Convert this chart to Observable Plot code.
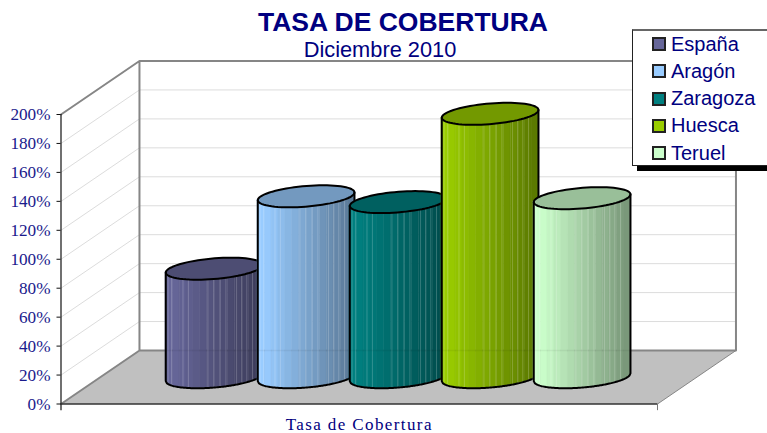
<!DOCTYPE html>
<html lang="es">
<head>
<meta charset="utf-8">
<script src="https://cdn.jsdelivr.net/npm/d3@7"></script>
<script src="https://cdn.jsdelivr.net/npm/@observablehq/plot@0.6"></script>
<style>
  html, body { margin: 0; padding: 0; background: #fff; }
  body { width: 767px; height: 433px; overflow: hidden; position: relative; }
  #head { height: 58px; position: relative; color: #000080; font-family: "Liberation Sans", Arial, sans-serif; }
  #title { position: absolute; left: 0; width: 806px; top: 8px; text-align: center; font-size: 26.5px; font-weight: bold; line-height: 29px; }
  #subtitle { position: absolute; left: 0; width: 760px; top: 38px; text-align: center; font-size: 21.8px; line-height: 24px; }
  #legend { position: absolute; left: 632px; top: 29px; width: 135px; height: 137px; box-sizing: border-box; background: #fff;
            border: 1px solid #222; border-right: none; border-top: 2px solid #666; box-shadow: 5px 5px 0 #000;
            font-family: "Liberation Sans", Arial, sans-serif; font-size: 20px; color: #000080; }
  .row { position: absolute; left: 19px; display: flex; align-items: center; height: 20px; }
  .sw { width: 14px; height: 14px; box-sizing: border-box; border: 2px solid #222; margin-right: 5px; }
  svg { display: block; }
  .xlabel text { letter-spacing: 1.4px; }
</style>
</head>
<body>
<div id="head">
  <div id="title"></div>
  <div id="subtitle"></div>
</div>
<div id="legend"></div>
<div id="chart"></div>
<script>
const chartTitle = "TASA DE COBERTURA";
const chartSubtitle = "Diciembre 2010";
const categoryLabel = "Tasa de Cobertura";
const series = ["España", "Aragón", "Zaragoza", "Huesca", "Teruel"];
const values = [75, 125, 121, 182, 123.7];
const colors = ["#666699", "#99ccff", "#008080", "#99cc00", "#ccffcc"];
const yTicks = [0, 20, 40, 60, 80, 100, 120, 140, 160, 180, 200];
const stripeOffsets = [0.024, 0.059, 0.178, 0.234, 0.436, 0.498, 0.56, 0.622, 0.732, 0.787, 0.838, 0.897];

// Oblique 3D projection, in scale units
const xSpan = 6.484, depthX = 0.853, depthY = 36.96;
const axisA = 0.492, axisB = 0.185, axisC = 7.6;
const R = Math.hypot(axisA, axisB), tr = Math.atan2(axisB, axisA);
const yMax = 200;

const center = (i) => xSpan / 2 + (i - 2) + depthX / 2 - 0.004;
const lowerY = (v, f) => v + depthY / 2 + axisC * Math.sin(tr + 2 * Math.PI - Math.acos(2 * f - 1));
const xAt = (i, f) => center(i) + R * (2 * f - 1);
const P = (u, v, d = 0) => ({x: u + d * depthX, y: v + d * depthY});
const line = (pts, o) => Plot.line(pts, {x: "x", y: "y", curve: "linear", ...o});

const N = 96, bands = 14, perBand = 6;
const fr = d3.range(N + 1).map((j) => j / N);

function cylinderMarks(i) {
  const v = values[i], base = d3.rgb(colors[i]);
  const shade = (k) => d3.rgb(base.r * k, base.g * k, base.b * k).formatHex();
  const strips = [];
  for (let b = 0; b < bands; b++) {
    const m = (b + 0.5) / bands;
    const k = m < 0.08 ? 1 : 1 - 0.42 * (m - 0.08) / 0.92;
    const c = shade(k);
    for (let q = 0; q <= perBand; q++) {
      const f = (b + q / perBand) / bands;
      strips.push({id: b, x: xAt(i, f), y1: lowerY(0, f), y2: lowerY(v, f), c});
    }
  }
  const stripes = stripeOffsets.map((f) => ({x: xAt(i, f), y1: lowerY(0, f), y2: lowerY(v, f)}));
  const backLine = fr.map((f) => ({x: xAt(i, f), y: depthY}));
  const ellipse = d3.range(0, 73).map((a) => {
    const t = a / 72 * 2 * Math.PI;
    return {
      x: center(i) + axisA * Math.cos(t) + axisB * Math.sin(t),
      y: v + depthY / 2 + axisC * Math.sin(t)
    };
  });
  const outline = [
    {x: xAt(i, 0), y: lowerY(v, 0)},
    ...fr.map((f) => ({x: xAt(i, f), y: lowerY(0, f)})),
    {x: xAt(i, 1), y: lowerY(v, 1)}
  ];
  return [
    Plot.area(strips, {x1: "x", y1: "y1", y2: "y2", z: "id", fill: "c", stroke: "c", strokeWidth: 0.5, curve: "linear"}),
    Plot.link(stripes, {x1: "x", x2: "x", y1: "y1", y2: "y2", stroke: "#fff", strokeOpacity: 0.2, strokeWidth: 1}),
    line(backLine, {stroke: "#000", strokeOpacity: 0.05, strokeWidth: 1.5}),
    line(ellipse, {fill: shade(0.75), stroke: "#000", strokeWidth: 2}),
    line(outline, {stroke: "#000", strokeWidth: 2})
  ];
}

document.getElementById("title").textContent = chartTitle;
document.getElementById("subtitle").textContent = chartSubtitle;
const legend = document.getElementById("legend");
series.forEach((s, i) => {
  const r = document.createElement("div");
  r.className = "row";
  r.style.top = (3 + i * 27.3) + "px";
  const sw = document.createElement("span");
  sw.className = "sw";
  sw.style.background = colors[i];
  const t = document.createElement("span");
  t.textContent = s;
  r.append(sw, t);
  legend.append(r);
});

const floor = [P(0, 0), P(xSpan, 0), P(xSpan, 0, 1), P(0, 0, 1), P(0, 0)];
const gridTicks = yTicks.slice(1, -1);
const grid = (t) => line([P(0, t), P(0, t, 1), P(xSpan, t, 1)], {stroke: "#dcdcdc", strokeWidth: 1});

const chart = Plot.plot({
  width: 767,
  height: 375,
  marginLeft: 60.5,
  marginRight: 110,
  marginTop: 56,
  marginBottom: 29.5,
  x: {domain: [0, xSpan], axis: null},
  y: {domain: [0, yMax], axis: null},
  style: {background: "transparent", overflow: "visible"},
  marks: [
    line(floor, {fill: "#c0c0c0", stroke: "none"}),
    ...gridTicks.map(grid),
    line([P(0, 0), P(0, 0, 1), P(0, yMax, 1), P(0, yMax), P(0, yMax, 1), P(xSpan, yMax, 1), P(xSpan, 0, 1), P(0, 0, 1)],
         {stroke: "#868686", strokeWidth: 2}),
    line([P(xSpan, 0), P(xSpan, 0, 1)], {stroke: "#868686", strokeWidth: 1}),
    ...series.flatMap((s, i) => cylinderMarks(i)),
    Plot.ruleX([xSpan], {y1: 0, y2: -4.6, stroke: "#777", strokeWidth: 1}),
    Plot.ruleX([0], {y1: -4.6, y2: yMax, stroke: "#111", strokeWidth: 1.2}),
    Plot.ruleY([0], {x1: 0, x2: xSpan, stroke: "#333", strokeWidth: 1.4}),
    Plot.axisY({
      ticks: yTicks,
      tickFormat: (d) => d + "%",
      label: null,
      tickSize: 4,
      tickPadding: 6.5,
      stroke: "#111",
      color: "#111",
      fill: "#1a1a8c",
      fontFamily: "Liberation Serif, serif",
      fontSize: 17.2
    }),
    Plot.axisX({
      ticks: [xSpan / 2],
      tickFormat: () => categoryLabel,
      label: null,
      tickSize: 0,
      tickPadding: 13.5,
      fill: "#000080",
      className: "xlabel",
      fontFamily: "Liberation Serif, serif",
      fontSize: 17
    })
  ]
});
document.getElementById("chart").append(chart);
</script>
</body>
</html>
